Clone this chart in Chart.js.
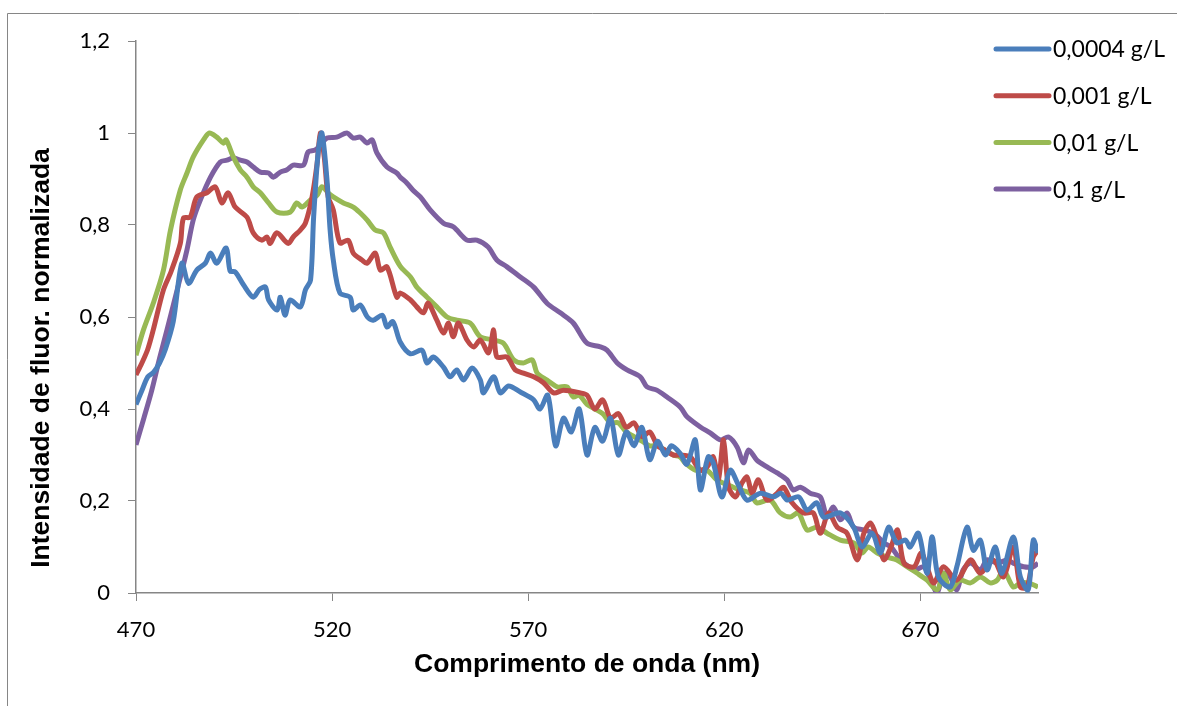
<!DOCTYPE html>
<html>
<head>
<meta charset="utf-8">
<script src="https://cdn.jsdelivr.net/npm/chart.js@4"></script>
<style>
  html, body { margin: 0; background: #fff; }
</style>
</head>
<body>
<canvas id="chart" width="1177" height="706"></canvas>
<script>
// Series labels and colours
const seriesLabels = ['0,0004 g/L', '0,001 g/L', '0,01 g/L', '0,1 g/L'];
const seriesColors = ['#4A7EBB', '#BE4B48', '#98B954', '#7D60A0'];

// Axis ticks
const xTicks = [470, 520, 570, 620, 670];
const yTicks = [0, 0.2, 0.4, 0.6, 0.8, 1, 1.2];
const xTitle = 'Comprimento de onda (nm)';
const yTitle = 'Intensidade de fluor. normalizada';

// 0,0004 g/L
const wave0004 = [470,471.5,473,474.5,476,477.5,479.5,481.7,483.4,485.5,487.7,489,490.6,493,494,495.3,497.4,499.9,501.5,503,503.8,506,506.8,508,509.3,511.9,513.2,514.5,515.3,516.5,517.4,518.7,519.5,520.3,522,524.6,525.4,527.2,529,530.5,532.8,534,535.5,537.4,540,542.9,544.2,545.8,548.4,550.1,551.8,553.5,555.7,557.8,558.6,561.2,562.9,565,568,571.4,573,575,577,579,581,583,585,587,589,591,593,595,597,599,601,603,605,606.5,608.7,610.5,612.6,613.9,615.9,617.2,619.4,621.5,623.6,625.8,629.2,632.6,634.4,636.1,639,641.1,643.6,645.3,649.6,653,655.1,657.7,659.8,661.9,664,666.2,667.4,669.5,671.7,673,674.6,677.6,679.3,681.9,683.5,685.3,687,689.1,690.8,693.7,695.5,697.5,698.8,700];
const intens0004 = [0.41,0.44,0.47,0.48,0.5,0.53,0.59,0.717,0.673,0.702,0.717,0.739,0.717,0.75,0.7,0.698,0.67,0.643,0.66,0.665,0.637,0.615,0.643,0.604,0.637,0.622,0.659,0.68,0.818,0.963,1,0.898,0.789,0.724,0.652,0.643,0.615,0.626,0.6,0.593,0.604,0.578,0.59,0.545,0.52,0.528,0.5,0.513,0.491,0.47,0.485,0.463,0.489,0.463,0.435,0.47,0.435,0.45,0.437,0.42,0.4,0.43,0.32,0.38,0.35,0.4,0.3,0.36,0.33,0.38,0.3,0.35,0.32,0.36,0.29,0.33,0.3,0.32,0.304,0.28,0.333,0.224,0.296,0.283,0.209,0.267,0.235,0.202,0.217,0.209,0.217,0.202,0.209,0.18,0.196,0.165,0.174,0.143,0.1,0.13,0.087,0.143,0.109,0.115,0.1,0.13,0.043,0.122,0.035,0.013,0.057,0.143,0.093,0.115,0.05,0.1,0.043,0.122,0.035,0.007,0.115,0.087];

// 0,001 g/L
const wave001 = [470,471.5,473,474.4,477,479,481.3,482.1,483.8,485.5,488.1,490.2,491.9,493.5,495.3,498.3,499.9,502.1,503.4,504.2,505.9,508.8,510.1,511.9,513.2,514.9,516.2,517,518,519,520.3,522,524.1,525.4,527.6,528.9,531,532.3,534,536.5,537.4,540,541.6,543.3,544.5,546.7,548.4,549.7,550.9,552.2,554.4,556.1,557.8,559.9,561.2,562,564.6,566.7,568.8,571.4,573.9,576.5,579,583.3,585,587,589,591,593,595,597,599,601,603,605,607,608.7,611.3,613.9,615.6,617.2,618.5,619.8,621.1,622.9,624.5,625.8,627.1,628.7,630.9,633.5,635.1,637.3,640.2,642.7,644.5,646.6,648.8,651.3,653.9,655.6,657.3,659.1,660.7,662.5,664.2,665.8,668.4,670.2,671.7,673.4,675.9,679.3,682.8,685.3,688.6,691.2,693.7,695.5,697.2,698.8,700];
const intens001 = [0.474,0.5,0.53,0.572,0.659,0.7,0.76,0.815,0.817,0.861,0.87,0.883,0.848,0.87,0.839,0.817,0.783,0.767,0.774,0.76,0.783,0.76,0.774,0.789,0.804,0.861,0.935,1,0.948,0.861,0.833,0.761,0.767,0.739,0.724,0.717,0.739,0.702,0.709,0.643,0.652,0.637,0.622,0.609,0.63,0.593,0.565,0.587,0.557,0.587,0.55,0.535,0.55,0.522,0.572,0.513,0.513,0.485,0.478,0.47,0.457,0.435,0.441,0.435,0.43,0.4,0.42,0.38,0.39,0.36,0.37,0.34,0.35,0.32,0.31,0.3,0.3,0.296,0.267,0.274,0.296,0.246,0.333,0.23,0.209,0.239,0.252,0.217,0.246,0.202,0.217,0.23,0.196,0.174,0.174,0.13,0.174,0.143,0.13,0.072,0.13,0.152,0.115,0.072,0.1,0.137,0.065,0.057,0.087,0.057,0.022,0.057,0.028,0.072,0.043,0.072,0.035,0.1,0.013,0.013,0.078,0.093];

// 0,01 g/L
const wave01 = [470,471.9,474.4,477,478.8,481.3,483,484.6,487.2,488.7,490.6,492.3,493,494.8,496.6,498.3,499.9,501.7,503.8,506,509.3,511,512.3,514.4,516.2,517.4,519,520.3,522.9,525.4,527.2,528.9,531,533.1,534.8,537.4,540,541.6,544.2,546.7,549.3,551.8,555.2,557.8,561.2,563.7,566.3,568.8,571,572.3,574.8,577.4,579.9,581.5,583,585,587,589,591,593,595,597,599,601,603,605,607,608.7,610,612.6,615.6,618.1,622.3,624.1,626.6,628.3,631.7,634.3,636.8,638.9,641.1,643.6,646.2,649.6,653,655.1,656.7,659,661.5,664,666.6,669.2,671.7,674.3,675.9,677.6,680.1,682.8,685.3,687.8,689.6,691.2,693.7,695.5,697.5,700];
const intens01 = [0.517,0.572,0.63,0.702,0.789,0.876,0.913,0.948,0.985,1,0.991,0.978,0.985,0.948,0.92,0.904,0.883,0.87,0.848,0.828,0.828,0.848,0.839,0.854,0.865,0.883,0.87,0.861,0.848,0.839,0.826,0.811,0.789,0.783,0.752,0.71,0.687,0.665,0.643,0.622,0.6,0.593,0.587,0.557,0.55,0.543,0.507,0.5,0.507,0.478,0.463,0.448,0.448,0.426,0.43,0.41,0.4,0.39,0.37,0.37,0.35,0.34,0.33,0.32,0.32,0.31,0.3,0.296,0.283,0.267,0.267,0.246,0.23,0.224,0.217,0.196,0.202,0.174,0.165,0.174,0.137,0.143,0.13,0.115,0.109,0.087,0.1,0.087,0.078,0.072,0.057,0.043,0.028,0.007,0.043,0.007,0.028,0.022,0.035,0.022,0.028,0.05,0.013,0.022,0.022,0.013];

// 0,1 g/L
const wave1 = [470,472,474,476,477.9,480.5,483,484.6,486.4,489,491.5,493.2,494.8,496.6,498.3,499.9,501.7,503.8,505,506.8,508.5,510.1,512.7,513.9,515.7,517,518.7,521.2,523.8,525.4,527.2,528.9,530.2,531.4,534,536.5,537.4,539.1,540.7,542.5,545,548.4,550.9,554.4,556.9,559.8,562,564.6,568,571.4,574.8,578.2,581.5,585,588.4,590.1,592.7,595.2,598.6,600.3,602.8,605.4,608.8,610.5,613.9,616.4,619,621.1,623.3,624.9,626.2,628.3,630.9,633.5,636,637.6,639.4,641.9,644.5,646.2,647.8,649.6,651.3,653,655.6,658.1,660.7,662.5,665,668.4,670.9,672.6,674.3,675.9,677.6,679.3,680.9,682.8,685.3,687,689.6,692.1,693.7,696.3,698.8,700];
const intens1 = [0.322,0.38,0.44,0.51,0.572,0.659,0.746,0.811,0.854,0.904,0.937,0.941,0.946,0.941,0.937,0.926,0.915,0.913,0.904,0.915,0.92,0.93,0.93,0.959,0.963,0.974,0.989,0.991,1,0.989,0.991,0.978,0.985,0.957,0.926,0.913,0.904,0.891,0.875,0.861,0.833,0.804,0.796,0.767,0.767,0.752,0.724,0.709,0.687,0.665,0.63,0.609,0.587,0.543,0.535,0.528,0.5,0.485,0.47,0.448,0.441,0.426,0.404,0.383,0.361,0.348,0.333,0.339,0.317,0.283,0.311,0.289,0.274,0.261,0.246,0.224,0.23,0.217,0.209,0.165,0.187,0.159,0.174,0.143,0.137,0.13,0.109,0.1,0.072,0.05,0.057,0.028,0,0.043,0.035,0.007,0.05,0.065,0.05,0.072,0.065,0.072,0.065,0.057,0.057,0.065];

const waves = [wave0004, wave001, wave01, wave1];
const intens = [intens0004, intens001, intens01, intens1];

const axisGray = '#868686';
const fmt = v => String(Math.round(v * 10) / 10).replace('.', ',');

// frame, legend and axis titles
const decor = {
    id: 'decor',
    beforeDraw(chart) {
        const ctx = chart.ctx;
        ctx.save();
        ctx.strokeStyle = axisGray;
        ctx.lineWidth = 1;
        ctx.beginPath();
        ctx.moveTo(7.5, 706); ctx.lineTo(7.5, 13.5); ctx.lineTo(1177, 13.5);
        ctx.stroke();
        ctx.restore();
    },
    afterDraw(chart) {
        const ctx = chart.ctx;
        const area = chart.chartArea;
        ctx.save();
        // legend
        ctx.font = '23px Lato';
        ctx.textBaseline = 'middle';
        ctx.fillStyle = '#000';
        ctx.lineCap = 'round';
        ctx.lineWidth = 5;
        seriesLabels.forEach((lab, i) => {
            const y = 49 + i * 46.7;
            ctx.strokeStyle = seriesColors[i];
            ctx.beginPath(); ctx.moveTo(996, y); ctx.lineTo(1049, y); ctx.stroke();
            ctx.fillText(lab, 1053, y + 1);
        });
        // axis titles
        ctx.font = 'bold 26.5px "Liberation Sans"';
        ctx.textAlign = 'center';
        ctx.fillText(xTitle, (area.left + area.right) / 2, 665);
        ctx.translate(42, 358);
        ctx.rotate(-Math.PI / 2);
        ctx.fillText(yTitle, 0, 0);
        ctx.restore();
    }
};

new Chart(document.getElementById('chart'), {
    type: 'scatter',
    data: {
        datasets: seriesLabels.map((lab, i) => ({
            label: lab,
            data: waves[i].map((x, j) => ({ x: x, y: intens[i][j] })),
            showLine: true,
            borderColor: seriesColors[i],
            backgroundColor: seriesColors[i],
            borderWidth: 5,
            pointRadius: 0,
            tension: 0.3
        }))
    },
    options: {
        responsive: false,
        animation: false,
        layout: { padding: { top: 41, right: 139, left: 0, bottom: 0 } },
        plugins: { legend: { display: false }, tooltip: { enabled: false } },
        scales: {
            x: {
                type: 'linear', min: 470, max: 700,
                afterFit: s => { s.height = 113; },
                afterBuildTicks: s => { s.ticks = xTicks.map(v => ({ value: v })); },
                grid: { drawOnChartArea: false, color: axisGray, tickLength: 8 },
                border: { color: axisGray, width: 1.5 },
                ticks: { color: '#000', font: { family: 'Lato', size: 22 }, padding: 16, maxRotation: 0 }
            },
            y: {
                min: 0, max: 1.2,
                afterFit: s => { s.width = 136; },
                afterBuildTicks: s => { s.ticks = yTicks.map(v => ({ value: v })); },
                grid: { drawOnChartArea: false, color: axisGray, tickLength: 8 },
                border: { color: axisGray, width: 1.5 },
                ticks: { color: '#000', font: { family: 'Lato', size: 22 }, padding: 18, callback: fmt }
            }
        }
    },
    plugins: [decor]
});
</script>
</body>
</html>
